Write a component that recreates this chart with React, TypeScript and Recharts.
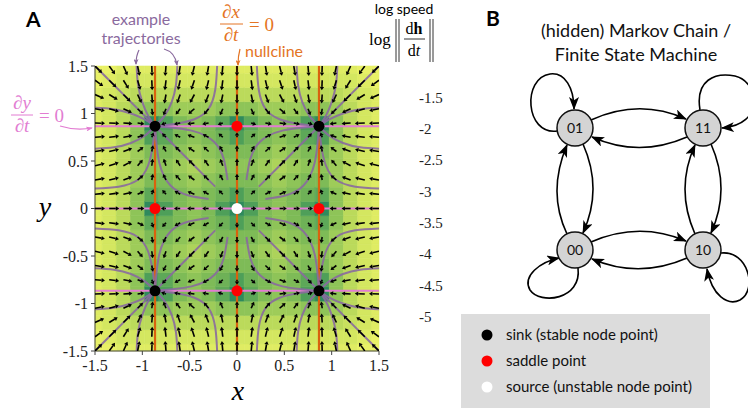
import React from "react";
import {
  ComposedChart,
  XAxis,
  YAxis,
  Scatter,
  Line,
  ReferenceLine,
  ReferenceArea,
} from "recharts";

// grid of the quiver plot and the flow component along one axis (dx/dt at x, same for dy/dt at y)
const gridPos = [
  -1.5, -1.35, -1.2, -1.05, -0.9, -0.75, -0.6, -0.45, -0.3, -0.15, 0,
  0.15, 0.3, 0.45, 0.6, 0.75, 0.9, 1.05, 1.2, 1.35, 1.5,
];
const flowRate = [
  0.193, 0.138, 0.086, 0.04, 0.006, -0.016, -0.031, -0.046, -0.033, -0.018, 0,
  0.018, 0.033, 0.046, 0.031, 0.016, -0.006, -0.04, -0.086, -0.138, -0.193,
];

const nullclines = [-0.866, 0, 0.866];
const axisTicks = [-1.5, -1, -0.5, 0, 0.5, 1, 1.5];
const colorTicks = [-5, -4.5, -4, -3.5, -3, -2.5, -2, -1.5];
const colorDomain = [-5.45, -1.0];

const sinkPoints = [
  { x: -0.866, y: 0.866 },
  { x: 0.866, y: 0.866 },
  { x: -0.866, y: -0.866 },
  { x: 0.866, y: -0.866 },
];
const saddlePoints = [
  { x: 0, y: 0.866 },
  { x: 0, y: -0.866 },
  { x: -0.866, y: 0 },
  { x: 0.866, y: 0 },
];
const sourcePoints = [{ x: 0, y: 0 }];

// example trajectories into the upper-left sink; the other sinks are mirror images
const trajTopLeft: number[][][] = [
  [[-1.5, 1.5], [-1.18, 1.18], [-0.866, 0.866]],
  [[-1.06, 1.5], [-1.045, 1.3], [-1.0, 1.12], [-0.94, 0.98], [-0.866, 0.866]],
  [[-0.63, 1.5], [-0.645, 1.3], [-0.69, 1.12], [-0.77, 0.97], [-0.866, 0.866]],
  [[-0.21, 1.5], [-0.23, 1.25], [-0.3, 1.05], [-0.45, 0.94], [-0.66, 0.89], [-0.866, 0.866]],
  [[-1.5, 1.06], [-1.3, 1.045], [-1.12, 1.0], [-0.98, 0.94], [-0.866, 0.866]],
  [[-1.5, 0.63], [-1.3, 0.645], [-1.12, 0.69], [-0.97, 0.77], [-0.866, 0.866]],
  [[-1.5, 0.21], [-1.25, 0.23], [-1.05, 0.3], [-0.94, 0.45], [-0.89, 0.66], [-0.866, 0.866]],
  [[-0.23, 0.23], [-0.55, 0.55], [-0.866, 0.866]],
  [[-0.1, 0.3], [-0.14, 0.52], [-0.24, 0.7], [-0.48, 0.82], [-0.866, 0.866]],
  [[-0.3, 0.1], [-0.52, 0.14], [-0.7, 0.24], [-0.82, 0.48], [-0.866, 0.866]],
];
const quadrantSigns = [[1, 1], [-1, 1], [1, -1], [-1, -1]];

const legendItems = [
  { label: "sink (stable node point)", color: "#000" },
  { label: "saddle point", color: "#ff0000" },
  { label: "source (unstable node point)", color: "#fff" },
];

const SANS = "Lato, 'Open Sans', sans-serif";
const SERIF = "'Liberation Serif', 'DejaVu Serif', serif";
const PURPLE = "#8a6a9e";
const ORANGE = "#d9620e";
const PINK = "#e27dd2";

const CMAP: [number, number[]][] = [
  [-5.45, [18, 118, 98]],
  [-5.0, [35, 130, 95]],
  [-4.5, [58, 146, 90]],
  [-4.0, [84, 163, 88]],
  [-3.5, [118, 182, 86]],
  [-3.0, [150, 200, 88]],
  [-2.5, [180, 214, 90]],
  [-2.0, [206, 228, 95]],
  [-1.5, [228, 239, 100]],
  [-1.0, [247, 246, 106]],
];

function colormap(v: number) {
  const c = Math.max(CMAP[0][0], Math.min(CMAP[CMAP.length - 1][0], v));
  for (let k = 0; k < CMAP.length - 1; k++) {
    const [v0, c0] = CMAP[k];
    const [v1, c1] = CMAP[k + 1];
    if (c >= v0 && c <= v1) {
      const t = (c - v0) / (v1 - v0);
      const rgb = c0.map((a, i) => Math.round(a + (c1[i] - a) * t));
      return `rgb(${rgb.join(",")})`;
    }
  }
  return "#fff";
}

const half = 0.075;
const heatCells = gridPos.flatMap((x, i) =>
  gridPos.map((y, j) => {
    const s = Math.hypot(flowRate[i], flowRate[j]);
    const lv = s > 0 ? Math.log(s) : -99;
    const q = Math.max(colorDomain[0] + 0.7, Math.floor(lv / 0.25) * 0.25 + 0.125);
    return {
      x1: Math.max(-1.5, x - half),
      x2: Math.min(1.5, x + half),
      y1: Math.max(-1.5, y - half),
      y2: Math.min(1.5, y + half),
      fill: colormap(q),
    };
  })
);

const arrowData = gridPos.flatMap((x, i) =>
  gridPos.map((y, j) => ({ x, y, u: flowRate[i], v: flowRate[j] }))
);

const trajectories = quadrantSigns.flatMap(([sx, sy]) =>
  trajTopLeft.map((t) => t.map(([x, y]) => ({ x: x * sx, y: y * sy })))
);

const fixedPoints = [
  ...sinkPoints.map((p) => ({ ...p, color: "#000" })),
  ...saddlePoints.map((p) => ({ ...p, color: "#ff0000" })),
  ...sourcePoints.map((p) => ({ ...p, color: "#fff" })),
];

const QuiverArrow = (props: any) => {
  const { cx, cy, payload } = props;
  const s = Math.hypot(payload.u, payload.v);
  if (!s) return <g />;
  const len = Math.min(10, 2 + 24 * Math.sqrt(s));
  const dx = payload.u / s;
  const dy = -payload.v / s;
  const ex = cx + dx * len;
  const ey = cy + dy * len;
  const hl = 3.4;
  const hw = 2.2;
  const bx = ex - dx * hl;
  const by = ey - dy * hl;
  return (
    <g>
      <line x1={cx} y1={cy} x2={bx} y2={by} stroke="#000" strokeWidth={1.6} />
      <polygon
        points={`${ex},${ey} ${bx - dy * hw},${by + dx * hw} ${bx + dy * hw},${by - dx * hw}`}
        fill="#000"
      />
    </g>
  );
};

const FixedDot = (props: any) => (
  <circle cx={props.cx} cy={props.cy} r={5.5} fill={props.payload.color} />
);

const head = (id: string, color: string, w: number, h: number) => (
  <marker
    id={id}
    viewBox={`0 0 ${w} ${h}`}
    refX={w - 1}
    refY={h / 2}
    markerWidth={w}
    markerHeight={h}
    orient="auto"
    markerUnits="userSpaceOnUse"
  >
    <path d={`M0,0 L${w},${h / 2} L0,${h} L${w * 0.25},${h / 2} z`} fill={color} />
  </marker>
);

const nodes = [
  { id: "01", x: 575, y: 128 },
  { id: "11", x: 703, y: 128 },
  { id: "00", x: 575, y: 250 },
  { id: "10", x: 703, y: 250 },
];

const edgePaths = [
  "M591,120 Q639,98 686,119",
  "M687,137 Q639,158 592,137",
  "M583,144 Q603,189 583,233",
  "M567,234 Q547,192 567,145",
  "M711,144 Q731,189 711,233",
  "M695,234 Q675,189 695,145",
  "M591,242 Q639,221 686,241",
  "M687,258 Q639,279 592,259",
  "M557,131 C525,135 522,78 550,74 C565,72 574,88 574,109",
  "M700,110 C695,80 715,72 735,76 C760,82 765,125 722,128",
  "M578,268 C582,300 540,305 530,290 C522,276 540,262 559,258",
  "M721,253 C748,250 758,290 740,300 C728,306 712,296 707,269",
];

export default function App() {
  return (
    <div style={{ position: "absolute", left: 0, top: 0, width: 748, height: 408, background: "#fff" }}>
      <svg width={0} height={0} style={{ position: "absolute" }}>
        <defs>
          <linearGradient id="cbGrad" x1="0" y1="0" x2="0" y2="1">
            {CMAP.slice()
              .reverse()
              .map(([v, rgb]) => (
                <stop
                  key={v}
                  offset={(colorDomain[1] - v) / (colorDomain[1] - colorDomain[0])}
                  stopColor={`rgb(${rgb.join(",")})`}
                />
              ))}
          </linearGradient>
        </defs>
      </svg>

      <div style={{ position: "absolute", left: 0, top: 0 }}>
        <ComposedChart width={748} height={408} margin={{ top: 66, right: 369, bottom: 27, left: 55 }}>
          <XAxis
            type="number"
            dataKey="x"
            domain={[-1.5, 1.5]}
            ticks={axisTicks}
            allowDataOverflow
            height={30}
            tickSize={4}
            tickMargin={5}
            stroke="#444"
            tick={{ fontFamily: SERIF, fontSize: 16, fill: "#222" }}
          />
          <YAxis
            type="number"
            dataKey="y"
            domain={[-1.5, 1.5]}
            ticks={axisTicks}
            allowDataOverflow
            width={40}
            tickSize={4}
            tickMargin={3}
            stroke="#444"
            tick={{ fontFamily: SERIF, fontSize: 16, fill: "#222" }}
          />
          {heatCells.map((c, k) => (
            <ReferenceArea
              key={`h${k}`}
              x1={c.x1}
              x2={c.x2}
              y1={c.y1}
              y2={c.y2}
              fill={c.fill}
              fillOpacity={1}
              stroke={c.fill}
              strokeWidth={0.6}
            />
          ))}
          {nullclines.map((v) => (
            <ReferenceLine key={`ny${v}`} y={v} stroke={PINK} strokeWidth={2.2} />
          ))}
          {nullclines.map((v) => (
            <ReferenceLine key={`nx${v}`} x={v} stroke={ORANGE} strokeWidth={2.2} />
          ))}
          <Scatter data={arrowData} shape={QuiverArrow} isAnimationActive={false} />
          {trajectories.map((t, k) => (
            <Line
              key={`t${k}`}
              data={t}
              dataKey="y"
              type="natural"
              stroke={PURPLE}
              strokeWidth={2}
              strokeOpacity={0.9}
              dot={false}
              activeDot={false}
              isAnimationActive={false}
            />
          ))}
          <Scatter data={fixedPoints} shape={FixedDot} isAnimationActive={false} />
        </ComposedChart>
      </div>

      <div style={{ position: "absolute", left: 396, top: 0 }}>
        <ComposedChart width={60} height={408} margin={{ top: 66, right: 0, bottom: 63, left: 0 }}>
          <XAxis
            type="number"
            dataKey="x"
            domain={[0, 1]}
            height={0}
            tick={false}
            axisLine={false}
            tickLine={false}
          />
          <YAxis
            type="number"
            orientation="right"
            domain={colorDomain}
            ticks={colorTicks}
            allowDataOverflow
            width={40}
            axisLine={false}
            tickLine={false}
            tickSize={0}
            tickMargin={3}
            tick={{ fontFamily: SERIF, fontSize: 15, fill: "#222" }}
          />
          <ReferenceArea
            x1={0}
            x2={1}
            y1={colorDomain[0]}
            y2={colorDomain[1]}
            fill="url(#cbGrad)"
            fillOpacity={1}
            stroke="#333"
            strokeWidth={1}
          />
          {colorTicks.map((t) => (
            <ReferenceLine
              key={`ct${t}`}
              segment={[{ x: 0.8, y: t }, { x: 1, y: t }]}
              stroke="#333"
              strokeWidth={1}
            />
          ))}
        </ComposedChart>
      </div>

      <svg
        width={748}
        height={408}
        style={{ position: "absolute", left: 0, top: 0, pointerEvents: "none" }}
      >
        <defs>
          {head("hB", "#000", 13, 10)}
          {head("hP", PURPLE, 6, 5)}
          {head("hO", "#e47424", 6, 5)}
          {head("hK", PINK, 7, 5)}
        </defs>

        {/* panel A labels */}
        <text x={26} y={27} fontFamily={SANS} fontWeight={700} fontSize={21} fill="#000">A</text>
        <text x={141} y={25} textAnchor="middle" fontFamily={SANS} fontSize={16} fill={PURPLE}>example</text>
        <text x={141} y={44} textAnchor="middle" fontFamily={SANS} fontSize={16} fill={PURPLE}>trajectories</text>
        <path d="M139,50 Q136,56 136,64" fill="none" stroke={PURPLE} strokeWidth={1.2} markerEnd="url(#hP)" />
        <path d="M164,49 Q175,52 177,65" fill="none" stroke={PURPLE} strokeWidth={1.2} markerEnd="url(#hP)" />

        <g fontFamily={SERIF} fontSize={19} fill="#e47424">
          <text x={231} y={18} textAnchor="middle">∂<tspan fontStyle="italic">x</tspan></text>
          <line x1={220} y1={24} x2={243} y2={24} stroke="#e47424" strokeWidth={1} />
          <text x={231} y={41} textAnchor="middle">∂<tspan fontStyle="italic">t</tspan></text>
          <text x={249} y={31}>= 0</text>
        </g>
        <text x={245} y={57} fontFamily={SANS} fontSize={16} fill="#e47424">nullcline</text>
        <path d="M240,49 Q238,56 238,65" fill="none" stroke="#e47424" strokeWidth={1.2} markerEnd="url(#hO)" />

        <g fontFamily={SERIF} fontSize={19} fill={PINK}>
          <text x={22} y={109} textAnchor="middle">∂<tspan fontStyle="italic">y</tspan></text>
          <line x1={11} y1={115} x2={33} y2={115} stroke={PINK} strokeWidth={1} />
          <text x={22} y={132} textAnchor="middle">∂<tspan fontStyle="italic">t</tspan></text>
          <text x={39} y={122}>= 0</text>
        </g>
        <path d="M60,126 Q76,131 92,128" fill="none" stroke={PINK} strokeWidth={1.2} markerEnd="url(#hK)" />

        <text x={45} y={216} textAnchor="middle" fontFamily={SERIF} fontStyle="italic" fontSize={28} fill="#000">y</text>
        <text x={238} y={400} textAnchor="middle" fontFamily={SERIF} fontStyle="italic" fontSize={28} fill="#000">x</text>

        <text x={404} y={14} textAnchor="middle" fontFamily={SANS} fontSize={14} fill="#000">log speed</text>
        <g fontFamily={SERIF} fill="#000">
          <text x={369} y={45} fontSize={17}>log</text>
          <line x1={396} y1={19} x2={396} y2={62} stroke="#000" strokeWidth={0.8} />
          <line x1={399} y1={19} x2={399} y2={62} stroke="#000" strokeWidth={0.8} />
          <text x={414} y={34} fontSize={16} textAnchor="middle">d<tspan fontWeight={700}>h</tspan></text>
          <line x1={404} y1={39} x2={425} y2={39} stroke="#000" strokeWidth={0.8} />
          <text x={414} y={56} fontSize={16} textAnchor="middle">d<tspan fontStyle="italic">t</tspan></text>
          <line x1={430} y1={19} x2={430} y2={62} stroke="#000" strokeWidth={0.8} />
          <line x1={433} y1={19} x2={433} y2={62} stroke="#000" strokeWidth={0.8} />
        </g>

        {/* panel B */}
        <text x={486} y={26} fontFamily={SANS} fontWeight={700} fontSize={21} fill="#000">B</text>
        <text x={636} y={37} textAnchor="middle" fontFamily={SANS} fontSize={18} fill="#111">(hidden) Markov Chain /</text>
        <text x={636} y={61} textAnchor="middle" fontFamily={SANS} fontSize={18} fill="#111">Finite State Machine</text>
        {edgePaths.map((d, k) => (
          <path key={`e${k}`} d={d} fill="none" stroke="#000" strokeWidth={1.6} markerEnd="url(#hB)" />
        ))}
        {nodes.map((n) => (
          <g key={n.id}>
            <circle cx={n.x} cy={n.y} r={18} fill="#d4d4d4" stroke="#111" strokeWidth={1.5} />
            <text x={n.x} y={n.y + 5} textAnchor="middle" fontFamily={SANS} fontSize={14} fill="#111">{n.id}</text>
          </g>
        ))}

        {/* legend */}
        <rect x={461} y={314} width={249} height={94} fill="#dcdcdc" />
        {legendItems.map((it, k) => (
          <g key={it.label}>
            <circle cx={487} cy={335 + k * 26} r={5.5} fill={it.color} />
            <text x={506} y={340 + k * 26} fontFamily={SANS} fontSize={15} fill="#111">{it.label}</text>
          </g>
        ))}
      </svg>
    </div>
  );
}
